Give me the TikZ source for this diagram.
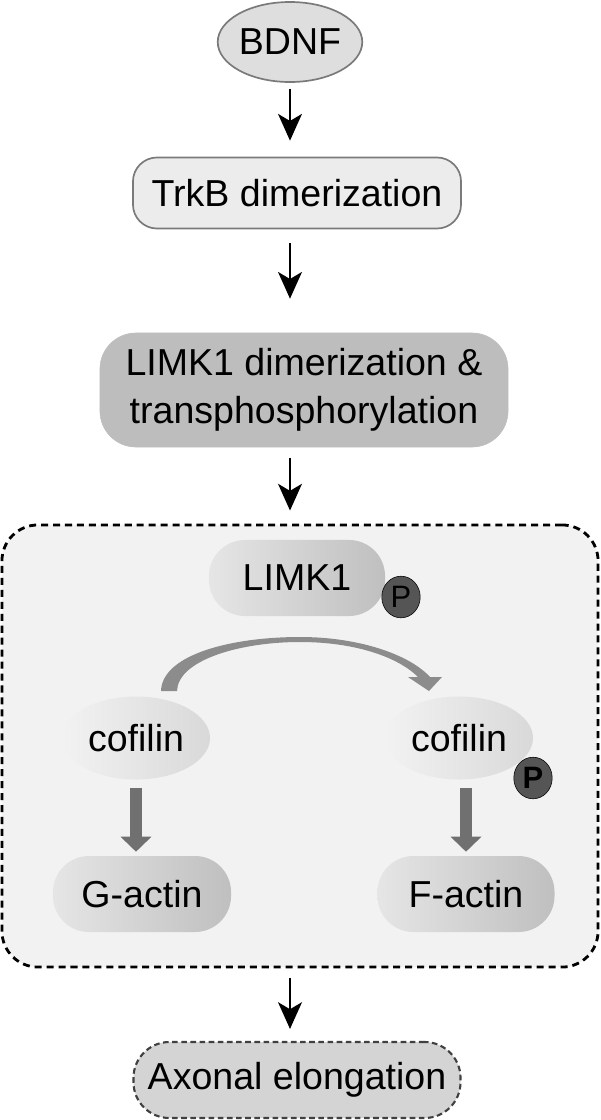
\documentclass[tikz,border=0pt]{standalone}
\usepackage{fontspec}
\setmainfont{Liberation Sans}
\usetikzlibrary{arrows.meta, shapes.geometric}

\definecolor{edgegray}{HTML}{7A7A7A}
\definecolor{ovalgray}{HTML}{DEDEDE}
\definecolor{boxgray}{HTML}{ECECEC}
\definecolor{darkbox}{HTML}{BDBDBD}
\definecolor{panelgray}{HTML}{F2F2F2}
\definecolor{endgray}{HTML}{D4D4D4}
\definecolor{pgray}{HTML}{555555}
\definecolor{fatgray}{HTML}{707070}
\definecolor{bendgray}{HTML}{8C8C8C}

\begin{document}
\begin{tikzpicture}[x=0.025cm, y=-0.025cm, font=\fontsize{26.7}{34}\selectfont]

	\tikzstyle{oval}=[ellipse, draw=edgegray, line width=1.2pt, fill=ovalgray, minimum width=3.4cm, minimum height=2cm, inner sep=0pt]
	\tikzstyle{stepbox}=[rectangle, rounded corners=0.6cm, draw=edgegray, line width=1.2pt, fill=boxgray, minimum width=8.2cm, minimum height=1.775cm, inner sep=0pt]
	\tikzstyle{bigbox}=[rectangle, rounded corners=0.9cm, draw=black!25, thin, fill=darkbox, minimum width=10.2cm, minimum height=2.85cm, inner sep=0pt, align=center]
	\tikzstyle{panel}=[rectangle, rounded corners=0.9cm, draw=black, line width=2pt, dash pattern=on 5pt off 3.5pt, fill=panelgray, minimum width=14.9cm, minimum height=11.05cm, inner sep=0pt]
	\tikzstyle{pill}=[rectangle, rounded corners=0.9cm, left color=black!10, right color=black!25, minimum height=1.9cm, inner sep=0pt]
	\tikzstyle{blob}=[ellipse, left color=panelgray, right color=black!15, minimum width=3.7cm, minimum height=2.075cm, inner sep=0pt]
	\tikzstyle{phos}=[ellipse, draw=black, thin, fill=pgray, minimum width=0.96cm, minimum height=1.04cm, inner sep=0pt, font=\fontsize{22}{22}\selectfont]
	\tikzstyle{endbox}=[rectangle, rounded corners=0.9cm, draw=black!75, line width=1.5pt, dash pattern=on 4pt off 2.5pt, fill=endgray, minimum width=8.175cm, minimum height=1.9cm, inner sep=0pt]
	\tikzstyle{arr}=[-{Stealth[length=19pt, width=17pt, inset=5pt]}, line width=1.4pt, black]
	\tikzstyle{fatarr}=[-{Triangle[length=0.375cm, width=0.75cm]}, line width=0.3cm, fatgray]

	\useasboundingbox (0,0) rectangle (600,1120);

	\node[oval] (bdnf) at (290,42) {BDNF};
	\node[stepbox] (trkb) at (297,193) {TrkB dimerization};
	\node[bigbox] (limkdim) at (304,390) {LIMK1 dimerization \&\\transphosphorylation};

	% inner panel
	\node[panel] (panel) at (300,746) {};
	\node[pill, minimum width=4.4cm] (limk) at (297,578) {LIMK1};
	\node[phos] (p1) at (401,597) {P};
	\node[blob] (lcof) at (136,738) {cofilin};
	\node[blob] (rcof) at (459,738) {cofilin};
	\node[phos] (p2) at (533,778) {\textbf{P}};
	\node[pill, minimum width=4.45cm] (gact) at (142,894) {G-actin};
	\node[pill, minimum width=4.425cm] (fact) at (466,894) {F-actin};

	\node[endbox] (axon) at (297,1080) {Axonal elongation};

	% pathway arrows
	\draw[arr, shorten <=0.15cm, shorten >=0.4cm] (bdnf) -- (bdnf |- trkb.north);
	\draw[arr, shorten <=0.35cm, shorten >=0.85cm] (bdnf |- trkb.south) -- (bdnf |- limkdim.north);
	\draw[arr, shorten <=0.275cm, shorten >=0.325cm] (bdnf |- limkdim.south) -- (bdnf |- panel.north);
	\draw[arr, shorten <=0.25cm, shorten >=0.3cm] (bdnf |- panel.south) -- (bdnf |- axon.north);

	\draw[fatarr, shorten <=0.2cm, shorten >=0.1cm] (lcof.south) -- (lcof.south |- gact.north);
	\draw[fatarr, shorten <=0.2cm, shorten >=0.1cm] (fact.north |- rcof.south) -- (fact.north);

	% bent arrow over the cofilins
	\fill[bendgray] (161,691) .. controls (162,655) and (230,637) .. (300,637)
		.. controls (360,637) and (410,655) .. (430,677) -- (442,677) -- (429,691) -- (408,677) -- (418,677)
		.. controls (398,657) and (355,642) .. (300,642)
		.. controls (240,642) and (178,660) .. (177,691) -- cycle;

\end{tikzpicture}
\end{document}
